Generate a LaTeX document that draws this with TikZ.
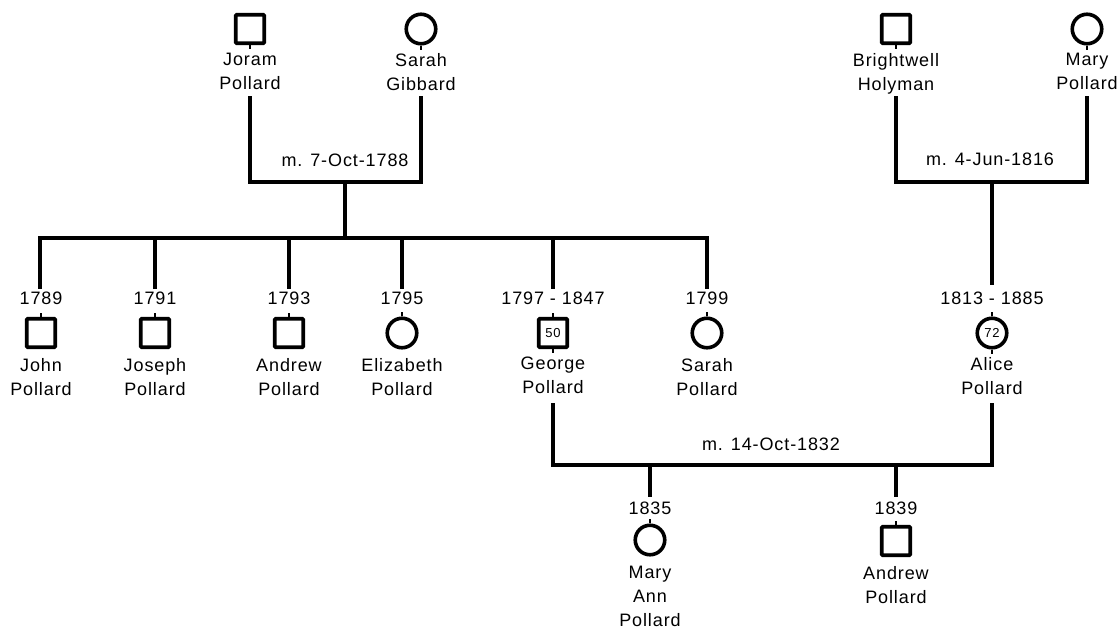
\documentclass[tikz,border=0pt]{standalone}
\usepackage{fontspec}
\setmainfont[LetterSpace=5]{Liberation Sans}
\begin{document}
\begin{tikzpicture}[x=1pt,y=-1pt,
  line/.style={line width=3.4pt,line cap=rect},
  tick/.style={line width=2.6pt},
  male/.style={draw,line width=3.8pt,rectangle,rounded corners=1pt,minimum size=28.5pt,inner sep=0pt,font=\fontsize{13}{13}\selectfont},
  female/.style={draw,line width=3.6pt,circle,minimum size=29.5pt,inner sep=0pt,font=\fontsize{13}{13}\selectfont},
  lbl/.style={anchor=north,inner sep=0pt,align=center,font=\fontsize{18}{24}\selectfont}]
\useasboundingbox (0,0) rectangle (1120,630);

% ---------- top left couple ----------
\node[male] (joram) at (250,29) {};
\node[lbl] (joramN) at (250,53) {Joram\\Pollard};
\node[female] (sarahG) at (421,29) {};
\node[lbl] (sarahGN) at (421,53) {Sarah\\Gibbard};
\draw[tick] (joram.south) -- ++(0,4);
\draw[tick] (sarahG.south) -- ++(0,4);
\coordinate (jL) at (250,98);
\coordinate (sL) at (421,98);
\coordinate (m1) at (345,182);
\draw[line] (jL) |- (m1) -| (sL);
\node[lbl] (m1t) at (345,154) {m. 7-Oct-1788};

% ---------- top right couple ----------
\node[male] (bright) at (896,29) {};
\node[lbl] (brightN) at (896,53) {Brightwell\\Holyman};
\node[female] (maryP) at (1087,29) {};
\node[lbl] (maryPN) at (1087,53) {Mary\\Pollard};
\draw[tick] (bright.south) -- ++(0,4);
\draw[tick] (maryP.south) -- ++(0,4);
\coordinate (bL) at (896,98);
\coordinate (mL) at (1087,98);
\coordinate (m2) at (992,182);
\draw[line] (bL) |- (m2) -| (mL);
\node[lbl] (m2t) at (990,153) {m. 4-Jun-1816};

% ---------- sibling bar ----------
\coordinate (m1d) at (345,238);
\draw[line] (m1) -- (m1d);
\coordinate (sbA) at (40,238);
\coordinate (sbF) at (707,238);
\draw[line] (sbA) -- (sbF);

% children
\coordinate (tJohn) at (40,238);   \coordinate (eJohn) at (40,287);
\coordinate (tJos) at (155,238);   \coordinate (eJos) at (155,287);
\coordinate (tAnd) at (289,238);   \coordinate (eAnd) at (289,287);
\coordinate (tEli) at (402,238);   \coordinate (eEli) at (402,287);
\coordinate (tGeo) at (553,238);   \coordinate (eGeo) at (553,287);
\coordinate (tSar) at (707,238);   \coordinate (eSar) at (707,287);
\foreach \a/\b in {tJohn/eJohn,tJos/eJos,tAnd/eAnd,tEli/eEli,tGeo/eGeo,tSar/eSar}
  \draw[line] (\a) -- (\b);

\node[lbl] (johnY) at (41,292) {1789};
\node[male] (john) at (41,333) {};
\node[lbl] (johnN) at (41,358) {John\\Pollard};

\node[lbl] (josY) at (155,292) {1791};
\node[male] (jos) at (155,333) {};
\node[lbl] (josN) at (155,358) {Joseph\\Pollard};

\node[lbl] (andY) at (289,292) {1793};
\node[male] (and) at (289,333) {};
\node[lbl] (andN) at (289,358) {Andrew\\Pollard};

\node[lbl] (eliY) at (402,292) {1795};
\node[female] (eli) at (402,333) {};
\node[lbl] (eliN) at (402,358) {Elizabeth\\Pollard};

\node[lbl] (geoY) at (553,292) {1797 - 1847};
\node[male] (geo) at (553,333) {50};
\node[lbl] (geoN) at (553,357) {George\\Pollard};

\node[lbl] (sarY) at (707,292) {1799};
\node[female] (sar) at (707,333) {};
\node[lbl] (sarN) at (707,358) {Sarah\\Pollard};

% Alice
\coordinate (m2d) at (992,283);
\draw[line] (m2) -- (m2d);
\node[lbl] (aliY) at (992,292) {1813 - 1885};
\node[female] (ali) at (992,333) {72};
\node[lbl] (aliN) at (992,357) {Alice\\Pollard};

\foreach \n in {john,jos,and,eli,geo,sar,ali}
  \draw[tick] (\n.north) -- ++(0,-4);
\draw[tick] (geo.south) -- ++(0,4);
\draw[tick] (ali.south) -- ++(0,4);

% ---------- bottom couple ----------
\coordinate (gL) at (553,405);
\coordinate (aL) at (992,405);
\coordinate (m3) at (773,465);
\draw[line] (gL) |- (m3) -| (aL);
\node[lbl] (m3t) at (771,438) {m. 14-Oct-1832};

\coordinate (tMA) at (650,465); \coordinate (eMA) at (650,495);
\coordinate (tAn2) at (896,465); \coordinate (eAn2) at (896,495);
\draw[line] (tMA) -- (eMA);
\draw[line] (tAn2) -- (eAn2);

\node[lbl] (maY) at (650,502) {1835};
\node[female] (ma) at (650,540) {};
\node[lbl] (maN) at (650,566) {Mary\\Ann\\Pollard};

\node[lbl] (an2Y) at (896,502) {1839};
\node[male] (an2) at (896,541) {};
\node[lbl] (an2N) at (896,566) {Andrew\\Pollard};

\draw[tick] (ma.north) -- ++(0,-4);
\draw[tick] (an2.north) -- ++(0,-4);
\end{tikzpicture}
\end{document}
